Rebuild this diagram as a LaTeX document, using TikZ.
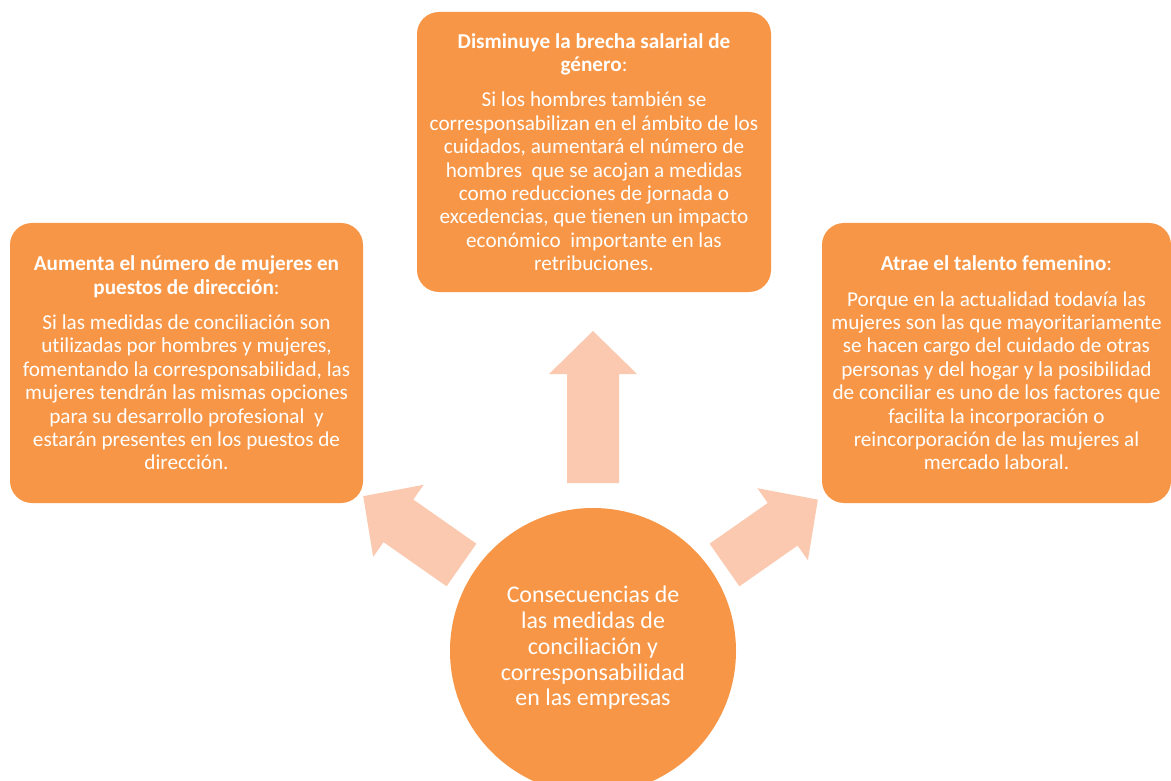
\documentclass[tikz,border=0pt]{standalone}
\usepackage{fontspec}
\setmainfont{Carlito}[Ligatures=NoCommon]
\definecolor{boxorange}{HTML}{F79646}
\definecolor{arrowpeach}{HTML}{FAC9AF}
\tikzset{
  infobox/.style={fill=boxorange, rounded corners=22pt, inner sep=0pt},
  boxtext/.style={text=white, align=center, font=\fontsize{21.2}{23.4}\selectfont, inner sep=0pt},
  hub/.style={circle, fill=boxorange, inner sep=0pt},
  hubtext/.style={text=white, align=center, font=\fontsize{23.9}{25.8}\selectfont, inner sep=0pt},
  fatarrow/.style={fill=arrowpeach}
}
\newcommand{\fatarrowpath}[1]{(0,-26) -- (#1-43,-26) -- (#1-43,-44) -- (#1,0) -- (#1-43,44) -- (#1-43,26) -- (0,26) -- cycle}
\begin{document}
\begin{tikzpicture}[x=1pt,y=-1pt]
\useasboundingbox (0,0) rectangle (1171,781);

% arrows
\fill[fatarrow, shift={(593,483)}, rotate=90] \fatarrowpath{152};
\fill[fatarrow, shift={(461.5,565)}, rotate=145] \fatarrowpath{120};
\fill[fatarrow, shift={(724.5,565)}, rotate=35] \fatarrowpath{114};

% hub
\node[hub, minimum size=286pt] (hub) at (593,651) {};
\node[hubtext] (hubtext) at (593,648)
  {Consecuencias de\\las medidas de\\conciliación y\\corresponsabilidad\\en las empresas};

% top box
\node[infobox, minimum width=354pt, minimum height=280pt] (top) at (594,152) {};
\node[boxtext] (toptext) at (top.center)
  {\textbf{Disminuye la brecha salarial de}\\\textbf{género}:\\[12pt]
   Si los hombres también se\\
   corresponsabilizan en el ámbito de los\\
   cuidados, aumentará el número de\\
   hombres\ \ que se acojan a medidas\\
   como reducciones de jornada o\\
   excedencias, que tienen un impacto\\
   económico\ \ importante en las\\
   retribuciones.};

% left box
\node[infobox, minimum width=353pt, minimum height=280pt] (left) at (186.5,363) {};
\node[boxtext] (lefttext) at (left.center)
  {\textbf{Aumenta el número de mujeres en}\\\textbf{puestos de dirección}:\\[12pt]
   Si las medidas de conciliación son\\
   utilizadas por hombres y mujeres,\\
   fomentando la corresponsabilidad, las\\
   mujeres tendrán las mismas opciones\\
   para su desarrollo profesional\ \ y\\
   estarán presentes en los puestos de\\
   dirección.};

% right box
\node[infobox, minimum width=349pt, minimum height=280pt] (right) at (996.5,363) {};
\node[boxtext] (righttext) at (right.center)
  {\textbf{Atrae el talento femenino}:\\[12pt]
   Porque en la actualidad todavía las\\
   mujeres son las que mayoritariamente\\
   se hacen cargo del cuidado de otras\\
   personas y del hogar y la posibilidad\\
   de conciliar es uno de los factores que\\
   facilita la incorporación o\\
   reincorporación de las mujeres al\\
   mercado laboral.};
\end{tikzpicture}
\end{document}
